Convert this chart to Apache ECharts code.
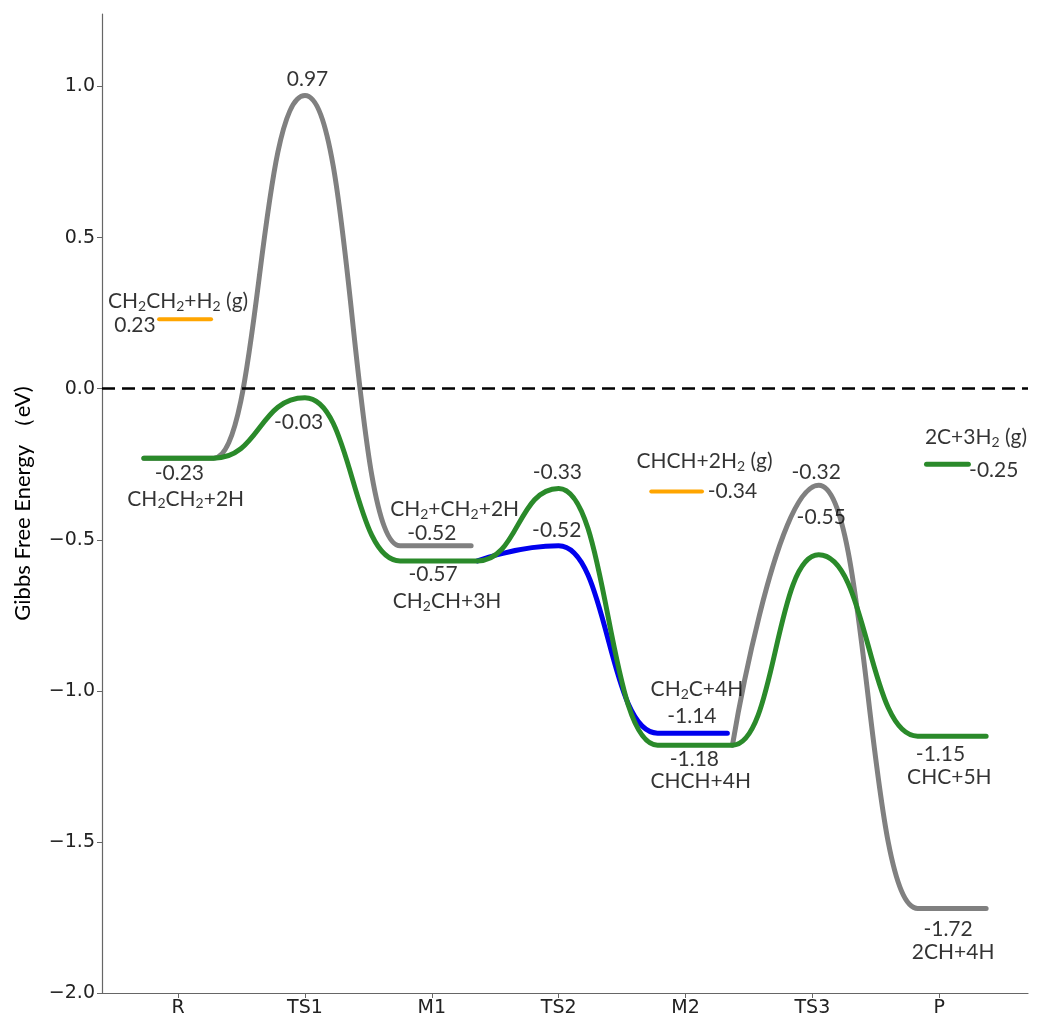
<!DOCTYPE html>
<html>
<head>
<meta charset="utf-8">
<script src="https://cdn.jsdelivr.net/npm/echarts@6/dist/echarts.min.js"></script>
<style>
  html, body { margin: 0; padding: 0; background: #fff; }
  #chart { width: 1038px; height: 1020px; }
</style>
</head>
<body>
<div id="chart"></div>
<script>
// reaction coordinate steps
const steps = ['R', 'TS1', 'M1', 'TS2', 'M2', 'TS3', 'P']
const yTicks = [-2.0, -1.5, -1.0, -0.5, 0.0, 0.5, 1.0]

// energy paths [step position, eV]
const grayPath1 = [[-0.27, -0.23], [0.28, -0.23], [1.0, 0.97], [1.75, -0.52], [2.31, -0.52]]
const grayPath2 = [[4.37, -1.18], [5.05, -0.32], [5.83, -1.72], [6.37, -1.72]]
const greenPath = [
  [-0.27, -0.23], [0.28, -0.23], [1.0, -0.03], [1.75, -0.57], [2.36, -0.57],
  [3.0, -0.33], [3.78, -1.18], [4.37, -1.18], [5.05, -0.55], [5.83, -1.15], [6.37, -1.15]
]
const bluePath = [[2.36, -0.57], [3.0, -0.52], [3.78, -1.14], [4.33, -1.14]]

// gas phase reference levels
const gasOrange1 = [[-0.15, 0.23], [0.26, 0.23]]
const gasOrange2 = [[3.73, -0.34], [4.13, -0.34]]
const gasGreen = [[5.9, -0.25], [6.23, -0.25]]

// annotations: [x, y, text]  (_2 = subscript)
const notes = [
  [1.02, 1.025, '0.97'],
  [0.0, 0.29, 'CH_2CH_2+H_2 (g)'],
  [-0.34, 0.21, '0.23'],
  [0.01, -0.28, '-0.23'],
  [0.06, -0.365, 'CH_2CH_2+2H'],
  [0.95, -0.11, '-0.03'],
  [2.18, -0.40, 'CH_2+CH_2+2H'],
  [2.0, -0.48, '-0.52'],
  [2.01, -0.615, '-0.57'],
  [2.12, -0.705, 'CH_2CH+3H'],
  [2.99, -0.275, '-0.33'],
  [2.985, -0.47, '-0.52'],
  [4.15, -0.24, 'CHCH+2H_2 (g)'],
  [4.37, -0.34, '-0.34'],
  [5.03, -0.275, '-0.32'],
  [6.29, -0.16, '2C+3H_2 (g)'],
  [6.43, -0.27, '-0.25'],
  [5.07, -0.425, '-0.55'],
  [4.09, -0.995, 'CH_2C+4H'],
  [4.05, -1.085, '-1.14'],
  [4.07, -1.225, '-1.18'],
  [4.12, -1.30, 'CHCH+4H'],
  [6.01, -1.21, '-1.15'],
  [6.08, -1.285, 'CHC+5H'],
  [6.07, -1.79, '-1.72'],
  [6.11, -1.865, '2CH+4H']
]

const GRAY = '#808080'
const GREEN = '#2a8a2a'
const BLUE = '#0000ee'
const ORANGE = '#ffa500'
const TXT = '#000'

// 'CH_2' -> rich text with subscript
const toRich = (t) => t.split(/_(\d)/)
  .map((p, i) => p === '' ? '' : (i % 2 ? '{s|' + p + '}' : '{n|' + p + '}'))
  .join('')

const pathSeries = (data, color, width) => ({
  type: 'line',
  data: data,
  smooth: 0.5,
  smoothMonotone: 'x',
  symbol: 'none',
  lineStyle: { color: color, width: width, cap: 'round' },
  silent: true
})

const chart = echarts.init(document.getElementById('chart'))

const option = {
  animation: false,
  backgroundColor: '#fff',
  grid: { left: 102, right: 10, top: 14, bottom: 27, outerBoundsMode: 'none' },
  xAxis: {
    type: 'value',
    min: -0.6,
    max: 6.7,
    splitLine: { show: false },
    axisLine: { onZero: false, lineStyle: { color: '#666', width: 1.2 } },
    axisTick: { length: 5, customValues: steps.map((s, i) => i), lineStyle: { color: '#666' } },
    axisLabel: {
      customValues: steps.map((s, i) => i),
      formatter: (v) => steps[Math.round(v)],
      fontFamily: 'DejaVu Sans',
      fontSize: 19,
      color: '#222',
      margin: 6
    }
  },
  yAxis: {
    type: 'value',
    min: -2.0,
    max: 1.24,
    name: 'Gibbs Free Energy （eV)',
    nameLocation: 'middle',
    nameGap: 68,
    nameRotate: 90,
    nameTextStyle: { fontFamily: 'Lato', fontSize: 22, color: TXT },
    splitLine: { show: false },
    axisLine: { show: true, onZero: false, lineStyle: { color: '#666', width: 1.2 } },
    axisTick: { show: true, length: 5, customValues: yTicks, lineStyle: { color: '#666' } },
    axisLabel: {
      customValues: yTicks,
      formatter: (v) => (v < 0 ? '\u2212' : '') + Math.abs(v).toFixed(1),
      fontFamily: 'DejaVu Sans',
      fontSize: 19,
      color: '#222',
      margin: 7
    }
  },
  series: [
    {
      ...pathSeries(gasOrange1, ORANGE, 4),
      markLine: {
        silent: true,
        symbol: 'none',
        label: { show: false },
        lineStyle: { type: [13, 7], color: '#000', width: 2.5 },
        data: [{ yAxis: 0 }]
      }
    },
    pathSeries(gasOrange2, ORANGE, 4),
    pathSeries(gasGreen, GREEN, 5),
    pathSeries(grayPath1, GRAY, 5),
    pathSeries(grayPath2, GRAY, 5),
    pathSeries(bluePath, BLUE, 5),
    pathSeries(greenPath, GREEN, 5),
    {
      type: 'scatter',
      silent: true,
      symbolSize: 1,
      itemStyle: { color: 'rgba(0,0,0,0)' },
      data: notes.map(n => ({ value: [n[0], n[1]], text: n[2] })),
      label: {
        show: true,
        position: 'inside',
        formatter: (p) => toRich(p.data.text),
        rich: {
          n: { fontFamily: 'Lato', fontSize: 21, color: TXT, lineHeight: 24 },
          s: { fontFamily: 'Lato', fontSize: 14, color: TXT, lineHeight: 12, verticalAlign: 'bottom' }
        }
      },
      z: 10
    }
  ]
}

chart.setOption(option)
</script>
</body>
</html>
